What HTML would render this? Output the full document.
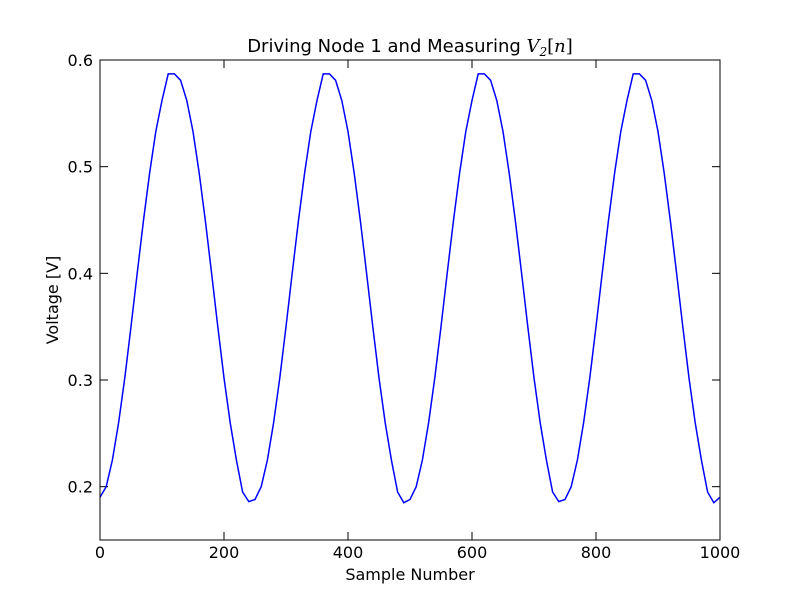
<!DOCTYPE html>
<html><head><meta charset="utf-8"><style>
body{margin:0;background:#fff;}
svg{display:block;font-family:"DejaVu Sans","Liberation Sans",sans-serif;}
</style></head><body>
<svg id="chart" width="800" height="600">
<rect x="0" y="0" width="800" height="600" fill="#fff"/>
<text x="410" y="52" font-size="18" text-anchor="middle">Driving Node 1 and Measuring <tspan font-family="'DejaVu Serif',serif" font-style="italic">V</tspan><tspan font-family="'DejaVu Serif',serif" font-style="italic" font-size="12" dy="4">2</tspan><tspan font-family="'DejaVu Serif',serif" dy="-4">[</tspan><tspan font-family="'DejaVu Serif',serif" font-style="italic">n</tspan><tspan font-family="'DejaVu Serif',serif">]</tspan></text>
<g id="ticks"></g>
<path id="series" fill="none" stroke="#0000ff" stroke-width="1.5"/>
<rect x="100" y="60" width="620" height="480" fill="none" stroke="#000" stroke-width="1"/>
<text x="410" y="580" font-size="16" text-anchor="middle">Sample Number</text>
<text x="58" y="300" font-size="16" text-anchor="middle" transform="rotate(-90 58 300)">Voltage [V]</text>
</svg>
<script>
const xTicks=[0,200,400,600,800,1000];
const yTicks=[0.2,0.3,0.4,0.5,0.6];
const yTickLabels=["0.2","0.3","0.4","0.5","0.6"];
const sampleIdx=[0,10,20,30,40,50,60,70,80,90,100,110,120,130,140,150,160,170,180,190,200,210,220,230,240,250,260,270,280,290,300,310,320,330,340,350,360,370,380,390,400,410,420,430,440,450,460,470,480,490,500,510,520,530,540,550,560,570,580,590,600,610,620,630,640,650,660,670,680,690,700,710,720,730,740,750,760,770,780,790,800,810,820,830,840,850,860,870,880,890,900,910,920,930,940,950,960,970,980,990,1000];
const voltage=[0.19,0.2,0.225,0.26,0.302,0.35,0.4,0.449,0.494,0.533,0.562,0.587,0.587,0.581,0.562,0.533,0.494,0.449,0.4,0.35,0.302,0.26,0.225,0.195,0.186,0.188,0.2,0.225,0.26,0.302,0.35,0.4,0.449,0.494,0.533,0.562,0.587,0.587,0.581,0.562,0.533,0.494,0.449,0.4,0.35,0.302,0.26,0.225,0.195,0.185,0.188,0.2,0.225,0.26,0.302,0.35,0.4,0.449,0.494,0.533,0.562,0.587,0.587,0.581,0.562,0.533,0.494,0.449,0.4,0.35,0.302,0.26,0.225,0.195,0.186,0.188,0.2,0.225,0.26,0.302,0.35,0.4,0.449,0.494,0.533,0.562,0.587,0.587,0.581,0.562,0.533,0.494,0.449,0.4,0.35,0.302,0.26,0.225,0.195,0.185,0.19];
const X=v=>100+v/1000*620;
const Y=v=>540-(v-0.15)/0.45*480;
const NS="http://www.w3.org/2000/svg";
const g=document.getElementById('ticks');
function mk(t,a){const e=document.createElementNS(NS,t);for(const k in a)e.setAttribute(k,a[k]);return e;}
xTicks.forEach(v=>{
 const x=X(v);
 const t1=mk('line',{x1:x,x2:x,y1:540,y2:532,stroke:'#000'});
 
 
 g.appendChild(t1);
 const t2=mk('line',{x1:x,x2:x,y1:60,y2:68,stroke:'#000'});
 
 
 g.appendChild(t2);
 const l=mk('text',{x:x,y:558,'font-size':16,'text-anchor':'middle'});l.textContent=v;
 
 
 g.appendChild(l);
});
yTicks.forEach((v,i)=>{
 const y=Y(v);
 const t1=mk('line',{x1:100,x2:108,y1:y,y2:y,stroke:'#000'});
 
 
 g.appendChild(t1);
 const t2=mk('line',{x1:712,x2:720,y1:y,y2:y,stroke:'#000'});
 
 
 g.appendChild(t2);
 const l=mk('text',{x:93,y:y+6,'font-size':16,'text-anchor':'end'});l.textContent=yTickLabels[i];
 
 
 g.appendChild(l);
});
document.getElementById('series').setAttribute('d',sampleIdx.map((n,i)=>(i?'L':'M')+X(n).toFixed(1)+' '+Y(voltage[i]).toFixed(1)).join(' '));
</script>
</body></html>
